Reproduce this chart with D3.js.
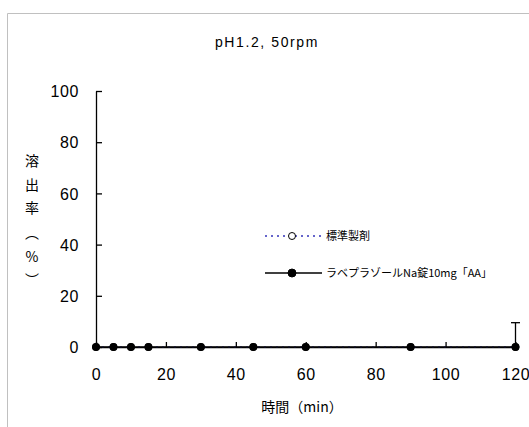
<!DOCTYPE html>
<html>
<head>
<meta charset="utf-8">
<script src="https://cdn.jsdelivr.net/npm/d3@7"></script>
<style>
	body { margin: 0; background: #fff; }
	text { fill: #000; }
</style>
</head>
<body>
<script>
var times = [0, 5, 10, 15, 30, 45, 60, 90, 120];
var standardValues = [0, 0, 0, 0, 0, 0, 0, 0, 0];
var testValues = [0, 0, 0, 0, 0, 0, 0, 0, 0];
var testErrors = [0, 0, 0, 0, 0, 0, 0, 0, 9.5];
var xTicks = [0, 20, 40, 60, 80, 100, 120];
var yTicks = [0, 20, 40, 60, 80, 100];
var seriesNames = ["標準製剤", "ラベプラゾールNa錠10mg「AA」"];

var w = 529, h = 427;
var latin = "'Liberation Sans', Arial, sans-serif";
var cjk = "'Noto Sans CJK JP', sans-serif";

var svg = d3.select("body")
	.append("svg")
	.attr("width", w)
	.attr("height", h);

//outer frame
svg.append("path")
	.attr("d", "M7.5," + h + "V13.5H" + w)
	.attr("fill", "none")
	.attr("stroke", "#c0c0c0")
	.attr("stroke-width", 1);

var x = d3.scaleLinear()
	.domain([0, 120])
	.range([96, 515.5]);

var y = d3.scaleLinear()
	.domain([0, 100])
	.range([347, 91]);

//title
svg.append("text")
	.attr("x", 267)
	.attr("y", 47)
	.attr("text-anchor", "middle")
	.style("font-family", latin)
	.style("font-size", "14px")
	.style("letter-spacing", "1.6px")
	.text("pH1.2, 50rpm");

//y axis
var yAxis = svg.append("g")
	.attr("transform", "translate(" + x(0) + ",0)")
	.call(d3.axisLeft(y).tickValues(yTicks).tickSizeInner(-6).tickSizeOuter(0).tickPadding(17));
yAxis.selectAll("text")
	.style("font-family", latin)
	.style("font-size", "16px")
	.style("letter-spacing", "0.6px")
	.attr("dy", "0.36em");

//x axis
var xAxis = svg.append("g")
	.attr("transform", "translate(0," + y(0) + ")")
	.call(d3.axisBottom(x).tickValues(xTicks).tickSizeInner(-5).tickSizeOuter(0).tickPadding(22));
xAxis.selectAll("text")
	.style("font-family", latin)
	.style("font-size", "16px")
	.style("letter-spacing", "0.6px")
	.attr("dy", "0.71em");

svg.selectAll(".domain, .tick line")
	.attr("stroke", "#000")
	.attr("stroke-width", 1.3);
svg.selectAll(".tick text").style("fill", "#000");

//axis titles
svg.append("text")
	.attr("x", 302)
	.attr("y", 412)
	.attr("text-anchor", "middle")
	.style("font-family", cjk)
	.style("font-size", "14px")
	.text("時間（min）");

var yTitle = ["溶", "出", "率", "︵", "%", "︶"];
var yTitlePos = [161, 185, 208, 233, 257, 280];
svg.append("g")
	.selectAll("text")
	.data(yTitle)
	.enter()
	.append("text")
	.attr("x", 32)
	.attr("y", function(d, i){ return yTitlePos[i]; })
	.attr("text-anchor", "middle")
	.attr("dy", "0.35em")
	.style("font-family", cjk)
	.style("font-size", "14px")
	.text(function(d){ return d; });

//series
var line = d3.line()
	.x(function(d){ return x(d[0]); })
	.y(function(d){ return y(d[1]); });

var stdData = d3.zip(times, standardValues);
var testData = d3.zip(times, testValues);

svg.append("path")
	.datum(stdData)
	.attr("d", line)
	.attr("fill", "none")
	.attr("stroke", "#3333bb")
	.attr("stroke-dasharray", "2,4");

svg.selectAll(".std")
	.data(stdData)
	.enter()
	.append("circle")
	.attr("class", "std")
	.attr("cx", function(d){ return x(d[0]); })
	.attr("cy", function(d){ return y(d[1]); })
	.attr("r", 3.5)
	.attr("fill", "#fff")
	.attr("stroke", "#000");

//error bars (upper)
var errData = d3.zip(times, testValues, testErrors).filter(function(d){ return d[2] > 0; });
var err = svg.selectAll(".err")
	.data(errData)
	.enter()
	.append("g")
	.attr("class", "err")
	.attr("stroke", "#000")
	.attr("stroke-width", 1.3);
err.append("line")
	.attr("x1", function(d){ return x(d[0]); })
	.attr("x2", function(d){ return x(d[0]); })
	.attr("y1", function(d){ return y(d[1]); })
	.attr("y2", function(d){ return y(d[1] + d[2]); });
err.append("line")
	.attr("x1", function(d){ return x(d[0]) - 4.5; })
	.attr("x2", function(d){ return x(d[0]) + 4.5; })
	.attr("y1", function(d){ return y(d[1] + d[2]); })
	.attr("y2", function(d){ return y(d[1] + d[2]); });

svg.append("path")
	.datum(testData)
	.attr("d", line)
	.attr("fill", "none")
	.attr("stroke", "#000")
	.attr("stroke-width", 1.3);

svg.selectAll(".test")
	.data(testData)
	.enter()
	.append("circle")
	.attr("class", "test")
	.attr("cx", function(d){ return x(d[0]); })
	.attr("cy", function(d){ return y(d[1]); })
	.attr("r", 4)
	.attr("fill", "#000");

//legend
var legend = svg.selectAll(".legend")
	.data(seriesNames)
	.enter()
	.append("g")
	.attr("class", "legend")
	.attr("transform", function(d, i){ return "translate(265," + (236 + i * 37) + ")"; });

legend.append("line")
	.attr("x1", 0)
	.attr("x2", 57)
	.attr("stroke", function(d, i){ return i == 0 ? "#3333bb" : "#000"; })
	.attr("stroke-width", function(d, i){ return i == 0 ? 1.3 : 1.3; })
	.attr("stroke-dasharray", function(d, i){ return i == 0 ? "2,4" : null; });

legend.append("circle")
	.attr("cx", 27)
	.attr("r", function(d, i){ return i == 0 ? 3.5 : 4; })
	.attr("fill", function(d, i){ return i == 0 ? "#fff" : "#000"; })
	.attr("stroke", "#000");

legend.append("text")
	.attr("x", 61)
	.attr("dy", "0.4em")
	.style("font-family", cjk)
	.style("font-size", "11px")
	.text(function(d){ return d; });
</script>
</body>
</html>
